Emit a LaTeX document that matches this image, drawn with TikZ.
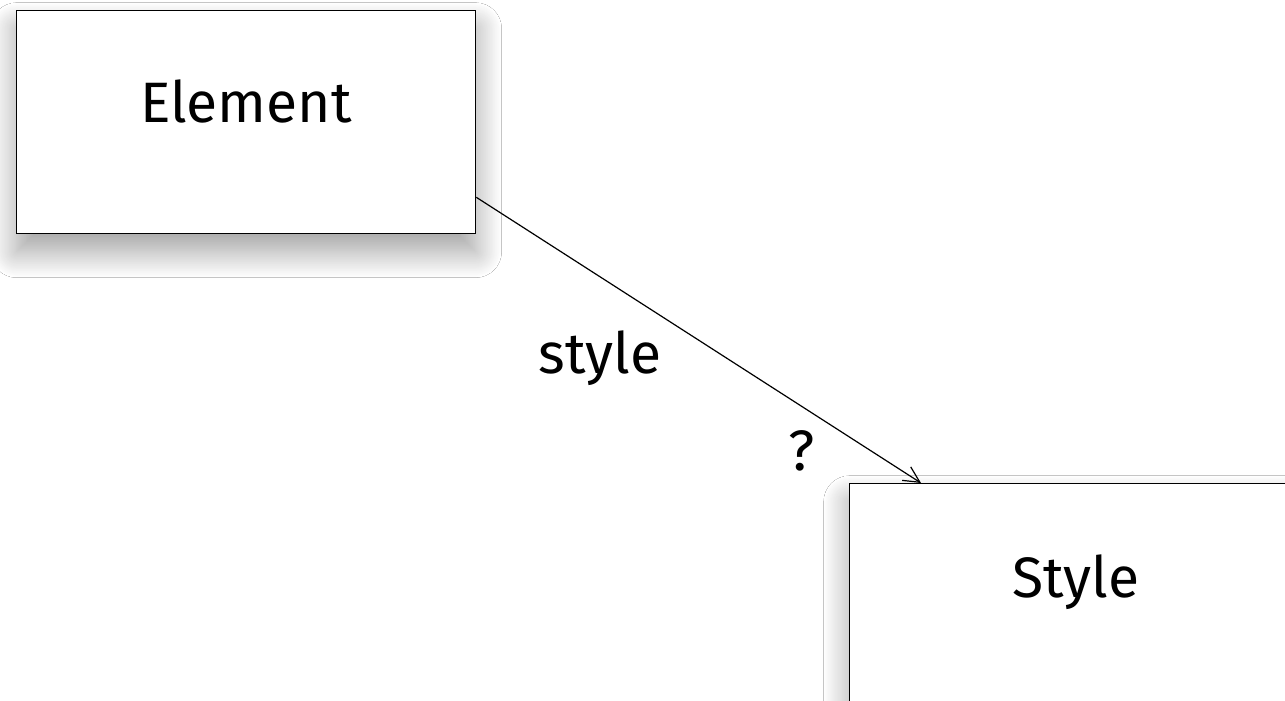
\documentclass[tikz,border=0pt]{standalone}
\usepackage{fontspec}
\setmainfont{Fira Sans}
\usetikzlibrary{arrows.meta,calc,shadows.blur}
\tikzset{
  umlbox/.style={draw=black, line width=0.65pt, fill=white, rectangle, inner sep=0pt,
    anchor=north west, font=\fontsize{28.5}{34}\selectfont,
    blur shadow={shadow xshift=0pt, shadow yshift=-9pt, shadow blur radius=13pt,
      shadow blur steps=30, shadow opacity=38}},
  lbl/.style={anchor=base, inner sep=0pt, font=\fontsize{28.5}{34}\selectfont},
  conn/.style={draw=black, line width=0.6pt, -{Straight Barb[length=8pt,width=8pt,line width=0.6pt]}}
}
\begin{document}
\begin{tikzpicture}[x=0.5pt,y=-0.5pt]
\clip (0,0) rectangle (1285,701);
\fill[white] (0,0) rectangle (1285,701);
\node[umlbox, minimum width=229.5pt, text height=56pt, text depth=55.5pt] (elem) at (16,10) {Element};
\node[umlbox, minimum width=226pt, text height=57pt, text depth=81.5pt] (sty) at (849,483) {Style};
\draw[conn] ($(elem.south east)+(0,-37)$) -- ($(sty.north west)+(72,0)$);
\node[lbl] (lstyle) at (600,373) {style};
\node[lbl] (lq) at (802,470) {?};
\end{tikzpicture}
\end{document}
